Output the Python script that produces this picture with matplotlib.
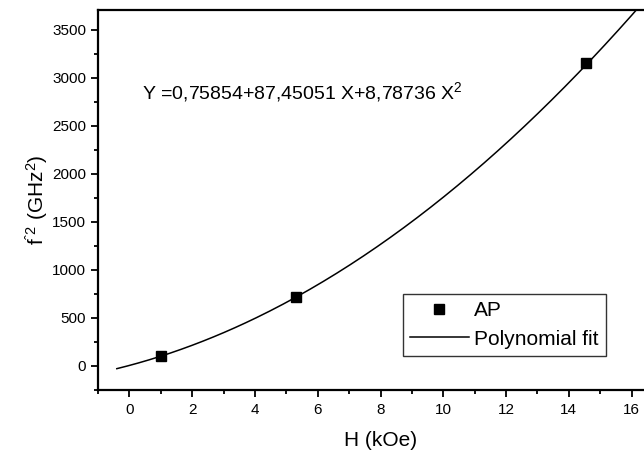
import matplotlib
matplotlib.use("Agg")
import matplotlib.pyplot as plt
import numpy as np

plt.rcParams["font.family"] = ["Liberation Sans", "DejaVu Sans"]
plt.rcParams["mathtext.default"] = "regular"

# measured points (AP)
h_koe = [1.0, 5.3, 14.55]
f_sq = [95, 715, 3155]

# polynomial fit as printed on the chart: Y = c0 + c1 X + c2 X^2
fit_coef = [0.75854, 87.45051, 8.78736]
fit_range = [-0.4, 16.6]

fig = plt.figure(figsize=(6.44, 4.53), dpi=100)
# right edge of the axes runs past the image, like the cropped original
ax = fig.add_axes([98 / 644, 1 - 389.5 / 453, 565 / 644, 379 / 453])

xs = np.linspace(fit_range[0], fit_range[1], 200)
ys = fit_coef[0] + fit_coef[1] * xs + fit_coef[2] * xs ** 2
ax.plot(xs, ys, color="black", lw=1.1, label="Polynomial fit", zorder=2)
ax.plot(h_koe, f_sq, ls="none", marker="s", ms=6.5, color="black",
        label="AP", zorder=3)

ax.set_xlim(-1, 17)
ax.set_ylim(-250, 3700)
ax.set_xticks(np.arange(0, 17, 2))
ax.set_xticks(np.arange(-1, 17, 1), minor=True)
ax.set_yticks(np.arange(0, 3501, 500))
ax.set_yticks(np.arange(-250, 3700, 250), minor=True)

for s in ["left", "bottom", "top"]:
    ax.spines[s].set_linewidth(1.6)
ax.spines["right"].set_visible(False)
ax.tick_params(which="both", direction="out", top=False, right=False,
               width=1.3, labelsize=11)
ax.tick_params(which="major", length=5)
ax.tick_params(which="minor", length=3)
ax.tick_params(axis="x", pad=5)

ax.set_xlabel("H (kOe)", fontsize=15, labelpad=10)
ax.set_ylabel("f$^{ˆ2}$ (GHz$^{2}$)", fontsize=15, labelpad=1)

ax.text(0.4, 2850, "Y =0,75854+87,45051 X+8,78736 X$^{2}$",
        fontsize=14, ha="left", va="center")

handles, labels = ax.get_legend_handles_labels()
leg = ax.legend(
    handles[::-1], labels[::-1], loc="lower left",
    bbox_to_anchor=(403 / 644, 1 - 356 / 453),
    bbox_transform=fig.transFigure, frameon=True, fancybox=False,
    edgecolor="black", fontsize=15, handlelength=2.8,
    handletextpad=0.25, borderpad=0.35, borderaxespad=0,
    labelspacing=0.45,
)
leg.get_frame().set_linewidth(1.0)

fig.savefig("out.png", dpi=100, facecolor="white")
